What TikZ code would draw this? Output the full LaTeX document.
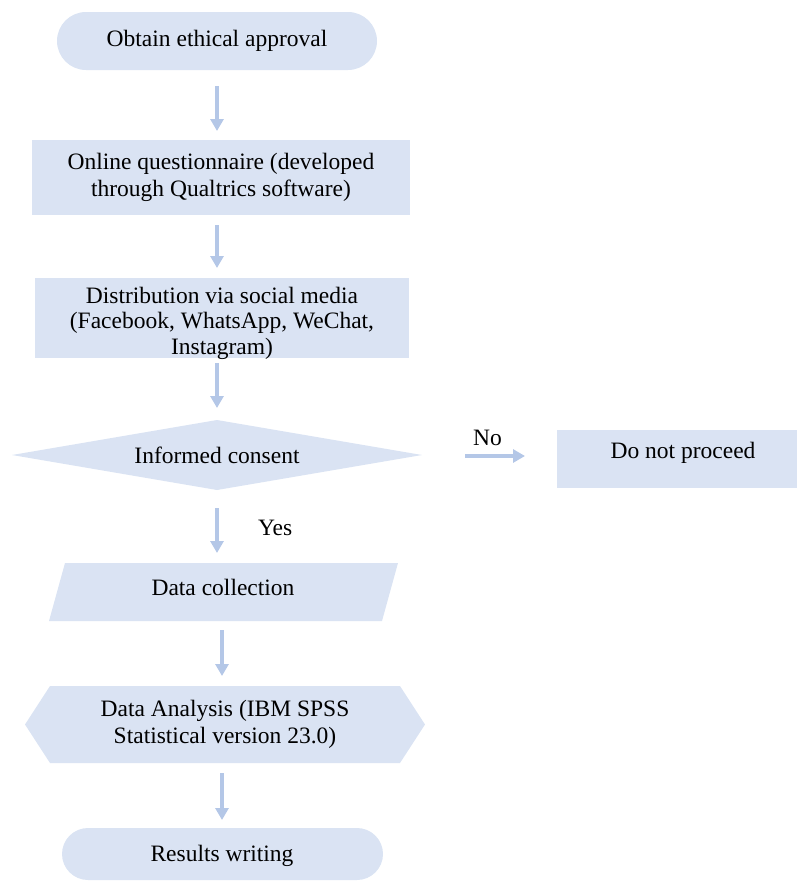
\documentclass[tikz,border=0pt]{standalone}
\usepackage{fontspec}
\setmainfont{Liberation Serif}
\usetikzlibrary{arrows.meta,backgrounds}
\definecolor{shapefill}{HTML}{DAE3F3}
\definecolor{arrowblue}{HTML}{B4C7E7}
\begin{document}
\begin{tikzpicture}[x=1pt,y=-1pt,
  every node/.style={inner sep=0pt,outer sep=0pt,font=\fontsize{23.5}{27.5}\selectfont,align=center},
  flowarrow/.style={draw=arrowblue,line width=4pt,-{Triangle[width=13pt,length=12pt]}},
  fillshape/.style={fill=shapefill}]
\useasboundingbox (0,0) rectangle (797,881);

% step areas, sized to their shapes
\node[minimum width=320pt,minimum height=58pt] (approval) at (217,41) {Obtain ethical approval};
\node[minimum width=378pt,minimum height=75pt] (online) at (221,177.5) {Online questionnaire (developed\\through Qualtrics software)};
\node[minimum width=374pt,minimum height=80pt] (distrib) at (222,318) {};
\node[minimum width=410pt,minimum height=70pt] (consent) at (217,455) {Informed consent};
\node[minimum width=240pt,minimum height=58pt] (stop) at (677,459) {};
\node[minimum width=349pt,minimum height=58pt] (collect) at (223.5,592) {};
\node[minimum width=400pt,minimum height=77pt] (analysis) at (225,724.5) {Data Analysis (IBM SPSS\\Statistical version 23.0)};
\node[minimum width=321pt,minimum height=52pt] (results) at (222.5,854) {};

% step texts that sit off the centre of their shapes
\node[font=\fontsize{23.5}{25.5}\selectfont] (distribtext) at (222,323) {Distribution via social media\\(Facebook, WhatsApp, WeChat,\\Instagram)};
\node (stoptext) at (683,453) {Do not proceed};
\node (collecttext) at (223,587) {Data collection};
\node (resultstext) at (222,856) {Results writing};

% shape fills behind the text
\begin{scope}[on background layer]
  \fill[fillshape,rounded corners=29pt] (approval.south west) rectangle (approval.north east);
  \fill[fillshape] (online.south west) rectangle (online.north east);
  \fill[fillshape] (distrib.south west) rectangle (distrib.north east);
  \fill[fillshape] (consent.west) -- (consent.north) -- (consent.east) -- (consent.south) -- cycle;
  \fill[fillshape] (stop.south west) rectangle (stop.north east);
  \fill[fillshape] (collect.south west) -- ([xshift=-16pt]collect.south east)
                   -- (collect.north east) -- ([xshift=16pt]collect.north west) -- cycle;
  \fill[fillshape] (analysis.west) -- ([xshift=25pt]analysis.north west)
                   -- ([xshift=-25pt]analysis.north east) -- (analysis.east)
                   -- ([xshift=-25pt]analysis.south east) -- ([xshift=25pt]analysis.south west) -- cycle;
  \fill[fillshape,rounded corners=26pt] (results.south west) rectangle (results.north east);
\end{scope}

% connectors
\draw[flowarrow,shorten <=16pt,shorten >=9pt] (approval.south) -- (approval.south |- online.north);
\draw[flowarrow,shorten <=10pt,shorten >=10pt] ([xshift=-4pt]online.south) -- ([xshift=-4pt]online.south |- distrib.north);
\draw[flowarrow,shorten <=5pt,shorten >=12pt] ([xshift=-5pt]distrib.south) -- ([xshift=-5pt]distrib.south |- consent.north);
\draw[flowarrow,shorten <=18pt,shorten >=10pt] (consent.south) -- (consent.south |- collect.north)
  node[midway,right=41pt,yshift=-1pt] (yes) {Yes};
\draw[flowarrow,shorten <=9pt,shorten >=10pt] ([xshift=-1.5pt]collect.south) -- ([xshift=-1.5pt]collect.south |- analysis.north);
\draw[flowarrow,shorten <=10pt,shorten >=8pt] ([xshift=-3pt]analysis.south) -- ([xshift=-3pt]analysis.south |- results.north);
\draw[flowarrow,shorten <=43pt,shorten >=32pt] (consent.east |- 0,456) -- (stop.west |- 0,456)
  node[midway,above=10pt,xshift=-2pt] (no) {No};
\end{tikzpicture}
\end{document}
